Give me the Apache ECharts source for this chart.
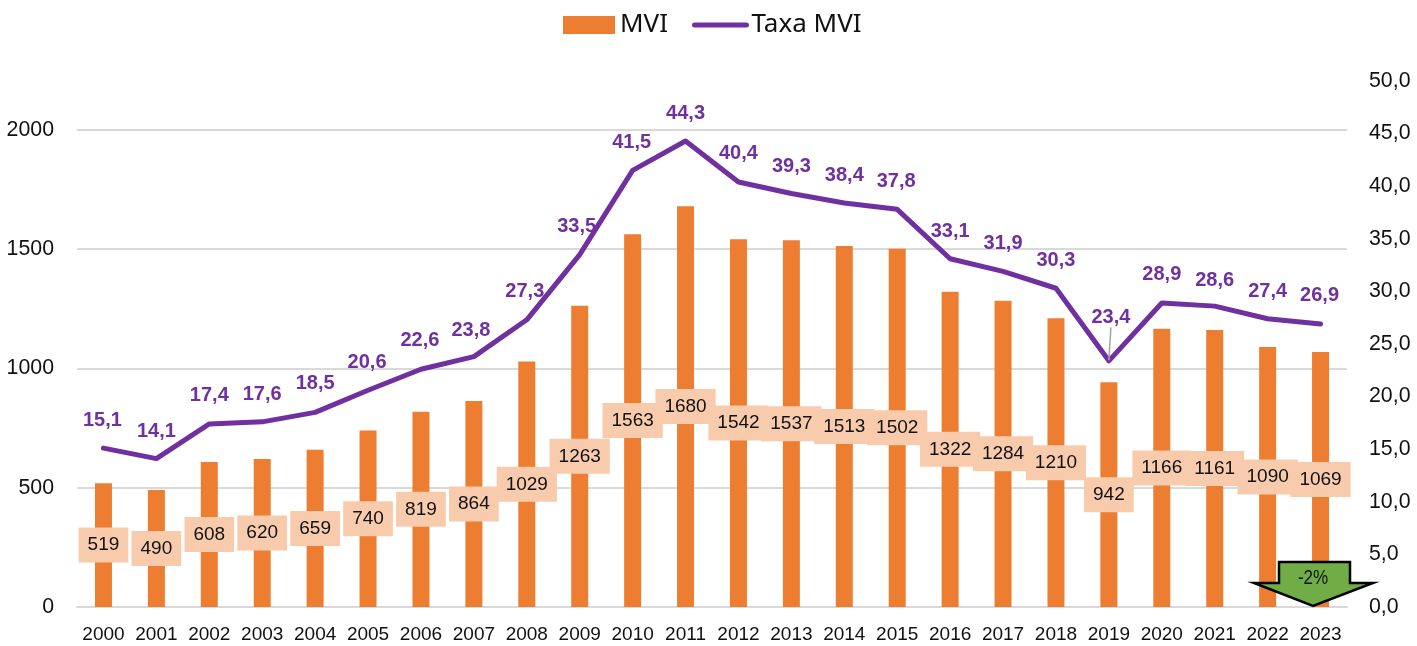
<!DOCTYPE html>
<html><head><meta charset="utf-8">
<style>html,body{margin:0;padding:0;background:#fff}#c{width:1417px;height:646px}</style>
<script src="https://cdn.jsdelivr.net/npm/echarts@6/dist/echarts.min.js"></script>
</head><body><div id="c"></div>
<script>
const years = ['2000','2001','2002','2003','2004','2005','2006','2007','2008','2009','2010','2011','2012','2013','2014','2015','2016','2017','2018','2019','2020','2021','2022','2023'];
const mvi = [519,490,608,620,659,740,819,864,1029,1263,1563,1680,1542,1537,1513,1502,1322,1284,1210,942,1166,1161,1090,1069];
const taxa = [15.1,14.1,17.4,17.6,18.5,20.6,22.6,23.8,27.3,33.5,41.5,44.3,40.4,39.3,38.4,37.8,33.1,31.9,30.3,23.4,28.9,28.6,27.4,26.9];
const labelNudgeX = [-1,0,0,0,0,-1,-1,-3,-2,-3,-1,0,0,0,0,-1,0,0,0,2,0,0,0,-1];
const labelNudgeY = [1,1,0,1,0,1,0,2,0,0,1,1,0,1,1,1,1,1,1,-15,0,3,1,0];
const leaderYear = '2019';
const pct = v => v.toFixed(1).replace('.', ',');
const chart = echarts.init(document.getElementById('c'), null, {renderer:'canvas'});
const sans = '"Liberation Sans", Arial, sans-serif';
chart.setOption({
  animation:false,
  backgroundColor:'#fff',
  legend:{
    left:558, top:7, itemWidth:52, itemHeight:18, itemGap:24,
    textStyle:{fontFamily:'"Noto Sans"', fontSize:26, color:'#111'},
    data:[
      {name:'MVI', icon:'rect'},
      {name:'Taxa MVI', itemStyle:{opacity:0}, lineStyle:{width:5, cap:'round', color:'#7030A0'}}
    ]
  },
  grid:{left:77, right:70, top:81, bottom:39, outerBoundsMode:'none'},
  xAxis:{
    type:'category', data:years,
    axisTick:{show:false},
    axisLine:{show:true, lineStyle:{color:'#D9D9D9', width:2}},
    axisLabel:{fontFamily:sans, fontSize:19, color:'#111', margin:18, interval:0}
  },
  yAxis:[
    {type:'value', min:0, max:2205, interval:500,
     axisLine:{show:false}, axisTick:{show:false},
     axisLabel:{fontFamily:sans, fontSize:21.33, color:'#111', margin:23, padding:[2,0,0,0], showMaxLabel:false, formatter:v=>String(v)},
     splitLine:{show:true, showMaxLine:false, lineStyle:{color:'#D9D9D9', width:2}}},
    {type:'value', min:0, max:50, interval:5,
     axisLine:{show:false}, axisTick:{show:false},
     axisLabel:{fontFamily:sans, fontSize:21.33, color:'#111', margin:22, padding:[3,0,0,0], formatter:pct},
     splitLine:{show:false}}
  ],
  series:[
    {name:'MVI', type:'bar', data:mvi, yAxisIndex:0, barWidth:17,
     itemStyle:{color:'#ED7D31'},
     label:{show:true, position:'inside', fontFamily:sans, fontSize:19, color:'#111',
            backgroundColor:'#F8CBAD', padding:[9,9,7,9]}},
    {name:'Taxa MVI', type:'line', yAxisIndex:1, symbol:'circle', symbolSize:1, z:5,
     data:taxa.map((v,i)=> years[i]===leaderYear ? {value:v, labelLine:{show:true}} : v),
     lineStyle:{color:'#7030A0', width:5, cap:'round', join:'round'},
     itemStyle:{color:'#7030A0'},
     label:{show:true, position:'top', distance:18, fontFamily:sans, fontSize:20, fontWeight:'bold', color:'#7030A0', formatter:p=>pct(p.value)},
     labelLayout:p=>({dx:labelNudgeX[p.dataIndex], dy:labelNudgeY[p.dataIndex]}),
     labelLine:{show:false, lineStyle:{color:'#A6A6A6', width:1.5}, smooth:false, length2:0}
    }
  ],
  graphic:[
    {type:'polygon', z:100,
     shape:{points:[[1279,562],[1350,562],[1350,583],[1373,583],[1313,606],[1254,583],[1279,583]]},
     style:{fill:'#70AD47', stroke:'#000', lineWidth:2.5, lineJoin:'miter'}},
    {type:'text', z:101, x:1313, y:578, scaleX:0.85,
     style:{text:'-2%', fontFamily:sans, fontSize:20, fill:'#111', align:'center', verticalAlign:'middle'}}
  ]
});
</script></body></html>
